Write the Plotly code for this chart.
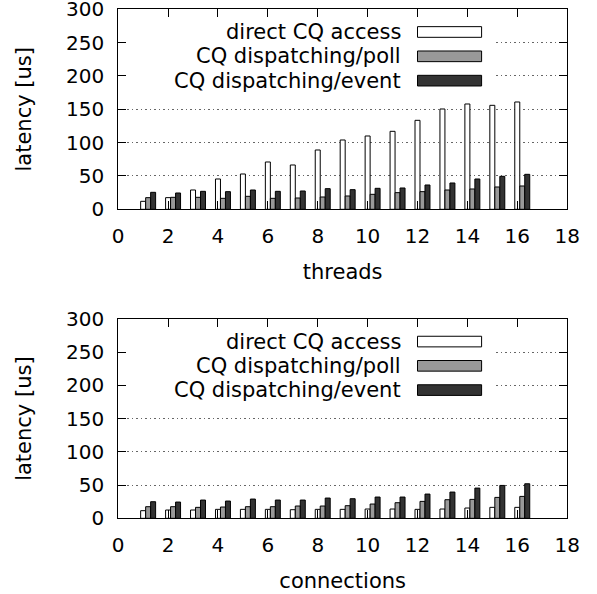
import plotly.graph_objects as go

x_vals = list(range(1, 17))
series_names = ["direct CQ access", "CQ dispatching/poll", "CQ dispatching/event"]

threads_direct = [12, 17.5, 29, 45.5, 53, 71, 66.5, 89, 104, 110, 117, 133.5, 150.5, 158, 156, 161]
threads_poll = [17.5, 18, 18, 16.5, 19.5, 16.5, 17, 18.5, 20, 22.5, 25, 26.5, 29, 30.5, 33.5, 35]
threads_event = [25.5, 24.5, 27, 26.5, 29, 27, 27.5, 31, 29.5, 31.5, 32, 36.5, 39.5, 45.5, 49.5, 52.5]

conn_direct = [11.5, 12.5, 12.5, 13.5, 13.5, 13.5, 13, 13.5, 13.5, 14, 14, 13.5, 14, 15.5, 16.5, 16.5]
conn_poll = [17.5, 17.5, 16.5, 17, 17.5, 17.5, 18.5, 18.5, 19, 21.5, 23.5, 25.5, 28, 28.5, 31.5, 33]
conn_event = [25, 24.5, 27.5, 26, 29, 27.5, 27.5, 30.5, 29.5, 32, 32, 36.5, 39.5, 45.5, 49.5, 52]

x_ticks = list(range(0, 19, 2))
y_ticks = list(range(0, 301, 50))

colors = ["#ffffff", "#999999", "#333333"]
offsets = [-0.1, 0.1, 0.3]
FONT = "DejaVu Sans"

fig = go.Figure()
panels = [
    ("x", "y", [threads_direct, threads_poll, threads_event]),
    ("x2", "y2", [conn_direct, conn_poll, conn_event]),
]
for xa, ya, data in panels:
    for name, vals, col, off in zip(series_names, data, colors, offsets):
        fig.add_trace(go.Bar(
            x=x_vals, y=vals, name=name, xaxis=xa, yaxis=ya,
            width=0.2, offset=off,
            marker=dict(color=col, line=dict(color="#000000", width=1)),
            showlegend=False,
        ))

axis_common = dict(
    ticks="inside", ticklen=8, tickcolor="#000", tickwidth=1,
    showline=True, linecolor="#000", linewidth=1, mirror="ticks",
    tickfont=dict(family=FONT, size=20, color="#000"),
    zeroline=False, automargin=False, ticklabeloverflow="allow",
)
title_font = dict(family=FONT, size=21, color="#000")

fig.update_layout(
    width=597, height=594,
    margin=dict(l=0, r=0, t=0, b=0),
    paper_bgcolor="#fff", plot_bgcolor="#fff",
    barmode="overlay", showlegend=False,
    font=dict(family=FONT, size=20, color="#000"),
    xaxis=dict(domain=[0.198, 0.950], anchor="y", range=[0, 18], tickvals=x_ticks,
               showgrid=False, ticklabelstandoff=9,
               title=dict(text="threads", standoff=16, font=title_font),
               **axis_common),
    yaxis=dict(domain=[0.6476, 0.9843], anchor="x", range=[0, 300], tickvals=y_ticks,
               showgrid=True, gridcolor="#666", gridwidth=1, griddash="1.5px,3px",
               ticklabelstandoff=9,
               title=dict(text="latency [us]", standoff=28, font=title_font),
               **axis_common),
    xaxis2=dict(domain=[0.198, 0.950], anchor="y2", range=[0, 18], tickvals=x_ticks,
                showgrid=False, ticklabelstandoff=9,
                title=dict(text="connections", standoff=16, font=title_font),
                **axis_common),
    yaxis2=dict(domain=[0.1274, 0.463], anchor="x2", range=[0, 300], tickvals=y_ticks,
                showgrid=True, gridcolor="#666", gridwidth=1, griddash="1.5px,3px",
                ticklabelstandoff=9,
                title=dict(text="latency [us]", standoff=28, font=title_font),
                **axis_common),
)

# gnuplot-style key: opaque background, right-aligned text, sample box on the right
legend_y = [266, 229.5, 193]
for xa, ya in [("x", "y"), ("x2", "y2")]:
    fig.add_shape(type="rect", xref=xa, yref=ya, x0=0.02, x1=15.1, y0=178, y1=292,
                  fillcolor="#fff", line=dict(width=0), layer="between")
    for name, col, yc in zip(series_names, colors, legend_y):
        fig.add_shape(type="rect", xref=xa, yref=ya, x0=12.0, x1=14.57,
                      y0=yc - 8, y1=yc + 8, fillcolor=col,
                      line=dict(color="#000", width=1), layer="above")
        fig.add_annotation(xref=xa, yref=ya, x=11.4, y=yc, text=name,
                           xanchor="right", yanchor="middle", showarrow=False,
                           font=title_font)

fig.write_html("out.html", config={"displayModeBar": False},
               post_script="document.body.style.margin='0';document.body.style.overflow='hidden';")
